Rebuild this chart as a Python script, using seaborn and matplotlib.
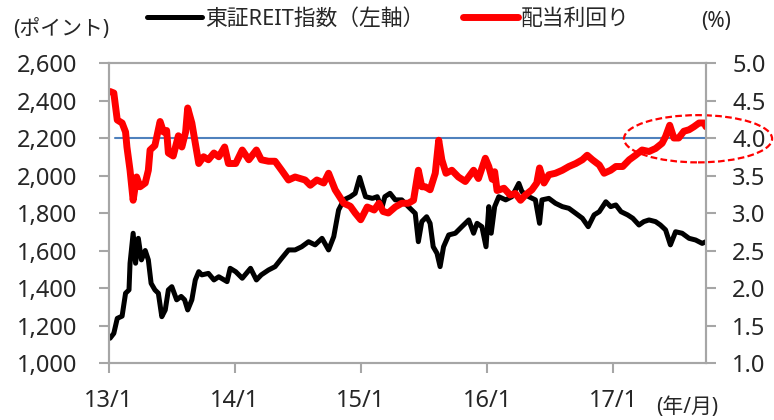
import matplotlib
matplotlib.use("Agg")
import matplotlib.pyplot as plt
import matplotlib.dates as mdates
from matplotlib.patches import Ellipse
from matplotlib.ticker import FuncFormatter, MultipleLocator
import pandas as pd
import seaborn as sns

# 東証REIT指数 (left axis, points)
reit_dates = [
    "2013-01-04", "2013-01-15", "2013-01-25", "2013-02-08", "2013-02-18", "2013-02-28",
    "2013-03-03", "2013-03-12", "2013-03-19", "2013-03-27", "2013-04-05", "2013-04-16",
    "2013-04-25", "2013-05-03", "2013-05-14", "2013-05-24", "2013-06-03", "2013-06-13",
    "2013-06-22", "2013-07-02", "2013-07-16", "2013-07-29", "2013-08-08", "2013-08-17",
    "2013-08-29", "2013-09-08", "2013-09-18", "2013-09-27", "2013-10-16", "2013-11-01",
    "2013-11-15", "2013-12-09", "2013-12-18", "2014-01-03", "2014-01-22", "2014-02-15",
    "2014-03-04", "2014-03-18", "2014-04-08", "2014-04-27", "2014-05-16", "2014-06-05",
    "2014-06-24", "2014-07-13", "2014-08-02", "2014-08-21", "2014-09-10", "2014-09-29",
    "2014-10-14", "2014-10-28", "2014-11-12", "2014-12-01", "2014-12-15", "2014-12-28",
    "2015-01-05", "2015-01-14", "2015-02-03", "2015-02-17", "2015-03-02", "2015-03-11",
    "2015-03-26", "2015-04-10", "2015-04-29", "2015-05-18", "2015-06-07", "2015-06-16",
    "2015-06-26", "2015-07-10", "2015-07-20", "2015-07-29", "2015-08-09", "2015-08-18",
    "2015-08-28", "2015-09-12", "2015-10-01", "2015-10-20", "2015-11-09", "2015-11-23",
    "2015-12-03", "2015-12-17", "2015-12-29", "2016-01-06", "2016-01-13", "2016-01-23",
    "2016-02-04", "2016-02-24", "2016-03-13", "2016-04-02", "2016-04-11", "2016-05-01",
    "2016-05-20", "2016-06-01", "2016-06-08", "2016-06-28", "2016-07-17", "2016-08-06",
    "2016-08-25", "2016-09-14", "2016-10-03", "2016-10-20", "2016-11-06", "2016-11-21",
    "2016-12-10", "2016-12-24", "2017-01-08", "2017-01-23", "2017-02-11", "2017-02-26",
    "2017-03-16", "2017-03-30", "2017-04-14", "2017-05-03", "2017-05-17", "2017-06-01",
    "2017-06-15", "2017-06-30", "2017-07-19", "2017-08-08", "2017-08-27", "2017-09-15",
    "2017-09-26",
]
reit_values = [
    1132, 1158, 1238, 1250, 1372, 1390,
    1532, 1692, 1532, 1665, 1550, 1600,
    1550, 1425, 1390, 1372, 1247, 1283,
    1390, 1407, 1337, 1355, 1337, 1283,
    1337, 1443, 1487, 1470, 1478, 1443,
    1460, 1434, 1505, 1487, 1452, 1505,
    1443, 1470, 1496, 1514, 1558, 1603,
    1603, 1620, 1647, 1630, 1665, 1603,
    1674, 1816, 1870, 1887, 1905, 1990,
    1940, 1887, 1878, 1887, 1825, 1887,
    1905, 1870, 1870, 1834, 1798, 1647,
    1754, 1780, 1745, 1620, 1585, 1514,
    1620, 1683, 1692, 1727, 1763, 1692,
    1745, 1727, 1620, 1834, 1692, 1834,
    1887, 1870, 1887, 1958, 1914, 1887,
    1870, 1745, 1870, 1878, 1852, 1834,
    1825, 1798, 1772, 1727, 1790, 1807,
    1860, 1834, 1843, 1807, 1790, 1772,
    1736, 1754, 1763, 1754, 1736, 1710,
    1630, 1700, 1692, 1665, 1656, 1638,
    1647,
]

# 配当利回り (right axis, %)
yield_dates = [
    "2013-01-04", "2013-01-15", "2013-01-25", "2013-02-08", "2013-02-18", "2013-02-22",
    "2013-03-03", "2013-03-12", "2013-03-22", "2013-04-01", "2013-04-16", "2013-04-25",
    "2013-04-30", "2013-05-14", "2013-05-29", "2013-06-08", "2013-06-17", "2013-06-22",
    "2013-07-06", "2013-07-21", "2013-07-31", "2013-08-11", "2013-08-17", "2013-08-29",
    "2013-09-08", "2013-09-18", "2013-10-02", "2013-10-16", "2013-11-01", "2013-11-15",
    "2013-12-02", "2013-12-13", "2014-01-03", "2014-01-22", "2014-02-10", "2014-03-04",
    "2014-03-18", "2014-04-08", "2014-04-27", "2014-05-16", "2014-06-05", "2014-06-24",
    "2014-07-23", "2014-08-07", "2014-08-26", "2014-09-15", "2014-09-29", "2014-10-18",
    "2014-11-12", "2014-12-01", "2014-12-15", "2014-12-31", "2015-01-19", "2015-02-08",
    "2015-02-22", "2015-03-06", "2015-03-21", "2015-04-10", "2015-04-29", "2015-05-18",
    "2015-06-02", "2015-06-16", "2015-06-26", "2015-07-06", "2015-07-20", "2015-08-04",
    "2015-08-14", "2015-08-23", "2015-09-04", "2015-09-21", "2015-10-10", "2015-10-30",
    "2015-11-23", "2015-12-07", "2015-12-27", "2016-01-06", "2016-01-16", "2016-01-23",
    "2016-01-30", "2016-02-19", "2016-03-08", "2016-03-23", "2016-04-07", "2016-04-21",
    "2016-05-10", "2016-05-24", "2016-06-01", "2016-06-14", "2016-06-28", "2016-07-17",
    "2016-08-06", "2016-08-25", "2016-09-14", "2016-10-03", "2016-10-17", "2016-11-01",
    "2016-11-21", "2016-12-05", "2016-12-24", "2017-01-08", "2017-01-28", "2017-02-16",
    "2017-03-06", "2017-03-25", "2017-04-14", "2017-05-03", "2017-05-22", "2017-06-01",
    "2017-06-13", "2017-06-25", "2017-07-09", "2017-07-24", "2017-08-08", "2017-08-22",
    "2017-09-06", "2017-09-21", "2017-09-26",
]
yield_values = [
    4.62, 4.60, 4.24, 4.20, 4.08, 3.88,
    3.57, 3.17, 3.48, 3.35, 3.40, 3.57,
    3.84, 3.90, 4.22, 4.08, 4.10, 3.80,
    3.76, 4.03, 3.88, 4.08, 4.40, 4.20,
    3.93, 3.66, 3.75, 3.71, 3.80, 3.75,
    3.88, 3.66, 3.66, 3.84, 3.71, 3.84,
    3.71, 3.69, 3.69, 3.57, 3.44, 3.48,
    3.44, 3.37, 3.44, 3.40, 3.53, 3.31,
    3.13, 3.09, 3.00, 2.91, 3.08, 3.04,
    3.13, 3.02, 3.00, 3.08, 3.13, 3.13,
    3.17, 3.57, 3.35, 3.35, 3.31, 3.53,
    3.97, 3.71, 3.53, 3.57, 3.48, 3.42,
    3.57, 3.46, 3.73, 3.62, 3.45, 3.55,
    3.30, 3.33, 3.24, 3.26, 3.17, 3.24,
    3.31, 3.40, 3.60, 3.40, 3.51, 3.53,
    3.57, 3.62, 3.66, 3.71, 3.77, 3.71,
    3.64, 3.53, 3.57, 3.62, 3.62, 3.71,
    3.77, 3.84, 3.82, 3.86, 3.93, 4.02,
    4.17, 4.00, 4.00, 4.09, 4.11, 4.15,
    4.20, 4.20, 4.15,
]

reit_label = "東証REIT指数（左軸）"
yield_label = "配当利回り"
yield_ref = 4.0

GREY = "#A6A6A6"

sns.set_style("white")
plt.rcParams["font.family"] = ["Noto Sans", "Noto Sans CJK JP"]

reit = pd.DataFrame({"date": pd.to_datetime(reit_dates), "value": reit_values})
yld = pd.DataFrame({"date": pd.to_datetime(yield_dates), "value": yield_values})

fig = plt.figure(figsize=(7.74, 4.2), dpi=100)
ax = fig.add_axes([0.1408, 0.1357, 0.7713, 0.7143])
ax2 = ax.twinx()

sns.lineplot(data=reit, x="date", y="value", ax=ax, color="black", lw=3.6, legend=False)
ax.get_lines()[-1].set_label(reit_label)
sns.lineplot(data=yld, x="date", y="value", ax=ax2, color="#FF0000", lw=5, legend=False)
ax2.get_lines()[-1].set_label(yield_label)

ax2.axhline(yield_ref, xmin=0.01, xmax=1.0, color="#4F81BD", lw=1.5, zorder=1)

# dashed ellipse highlighting the latest yield level
ell = Ellipse((mdates.date2num(pd.Timestamp("2017-09-03")), 3.99), width=429, height=0.63,
              transform=ax2.transData, fill=False, ec="#FF0000", lw=1.6,
              ls=(0, (3, 1.5)), clip_on=False)
ax2.add_patch(ell)

ax.set_xlim(pd.Timestamp("2013-01-01"), yld["date"].iloc[-1])
ax.set_ylim(1000, 2600)
ax2.set_ylim(1.0, 5.0)
ax.yaxis.set_major_locator(MultipleLocator(200))
ax2.yaxis.set_major_locator(MultipleLocator(0.5))
ax.yaxis.set_major_formatter(FuncFormatter(lambda v, _: f"{v:,.0f}"))
ax2.yaxis.set_major_formatter(FuncFormatter(lambda v, _: f"{v:.1f}"))
ax.xaxis.set_major_locator(mdates.YearLocator())
ax.xaxis.set_major_formatter(
    FuncFormatter(lambda v, _: f"{mdates.num2date(v):%y}/{mdates.num2date(v).month}"))

for a in (ax, ax2):
    a.set_xlabel("")
    a.set_ylabel("")
    a.grid(False)
    for sp in a.spines.values():
        sp.set_visible(True)
        sp.set_color(GREY)
        sp.set_linewidth(1.5)

ax.tick_params(axis="x", direction="out", length=7, width=1.5, color=GREY,
               labelsize=17, pad=12, bottom=True)
ax.tick_params(axis="y", direction="out", length=7, width=1.5, color=GREY,
               labelsize=17, pad=16, left=True)
ax2.tick_params(axis="y", direction="out", length=7, width=1.5, color=GREY,
                labelsize=17, pad=12, right=True)

h1, l1 = ax.get_legend_handles_labels()
h2, l2 = ax2.get_legend_handles_labels()
fig.legend(h1 + h2, l1 + l2, ncol=2, frameon=False, loc="center left",
           bbox_to_anchor=(147 / 774, 1 - 19 / 420), borderpad=0, borderaxespad=0,
           handlelength=2.5, handletextpad=0.15, columnspacing=1.8, fontsize=15.7)

fig.text(61 / 774, 1 - 30 / 420, "(ポイント)", ha="center", va="center", fontsize=15)
fig.text(716 / 774, 1 - 22 / 420, "(%)", ha="center", va="center", fontsize=15)
fig.text(687 / 774, 1 - 408 / 420, "(年/月)", ha="center", va="center", fontsize=15)

fig.savefig("out.png", dpi=100)
